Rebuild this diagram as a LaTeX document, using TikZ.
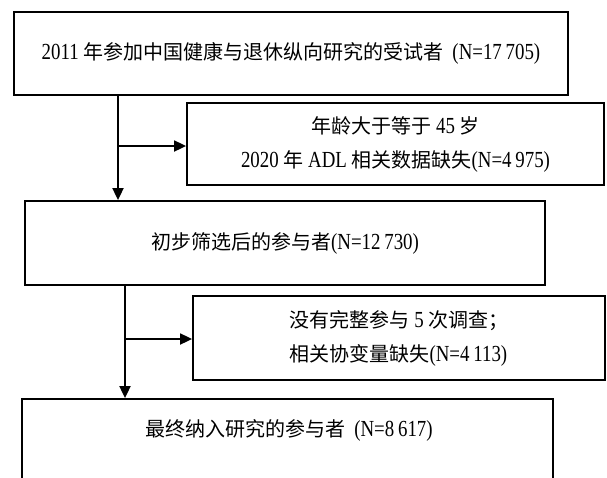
\documentclass[tikz,border=0pt]{standalone}
\usepackage{fontspec}
\setmainfont[FakeStretch=0.82]{Liberation Serif}
\newfontfamily\cjk{Noto Sans CJK SC}
\usetikzlibrary{arrows.meta}
\newcommand\zh[1]{{\cjk\fontsize{20pt}{34pt}\selectfont #1}}
\begin{document}
\begin{tikzpicture}[x=1pt,y=-1pt,
  box/.style={draw, line width=1.8pt, inner sep=0pt, font=\fontsize{23pt}{34pt}\selectfont},
  arr/.style={line width=1.8pt, -{Triangle[length=12pt,width=11pt]}}]
\useasboundingbox (0,0) rectangle (607,477);
\clip (0,0) rectangle (607,477);
\fill[white] (0,0) rectangle (607,477);

\node[box, minimum width=554pt, minimum height=83pt] (b1) at (291,53.5)
  {2011 \zh{年参加中国健康与退休纵向研究的受试者}\hspace{9pt}(N=17\,705)};
\node[box, minimum width=417pt, minimum height=82pt, align=center] (b2) at (395.5,144)
  {\zh{年龄大于等于} 45 \zh{岁}\\2020 \zh{年} ADL \zh{相关数据缺失}(N=4\,975)};
\node[box, minimum width=520pt, minimum height=84pt] (b3) at (285,243)
  {\zh{初步筛选后的参与者}(N=12\,730)};
\node[box, minimum width=412pt, minimum height=84pt, align=left] (b4) at (399,338)
  {\zh{没有完整参与} 5 \zh{次调查；}\\\zh{相关协变量缺失}(N=4\,113)};
\node[box, minimum width=531pt, minimum height=110pt] (b5) at (287.5,454) {};
\node[font=\fontsize{23pt}{34pt}\selectfont, inner sep=0pt] (t5) at (289,430)
  {\zh{最终纳入研究的参与者}\hspace{9pt}(N=8\,617)};

\coordinate (j1) at (118,146);
\coordinate (j2) at (125,339);
\draw[arr] (b1.south -| j1) -- (b3.north -| j1);
\draw[arr] (j1) -- (b2.west |- j1);
\draw[arr] (b3.south -| j2) -- (b5.north -| j2);
\draw[arr] (j2) -- (b4.west |- j2);
\end{tikzpicture}
\end{document}
